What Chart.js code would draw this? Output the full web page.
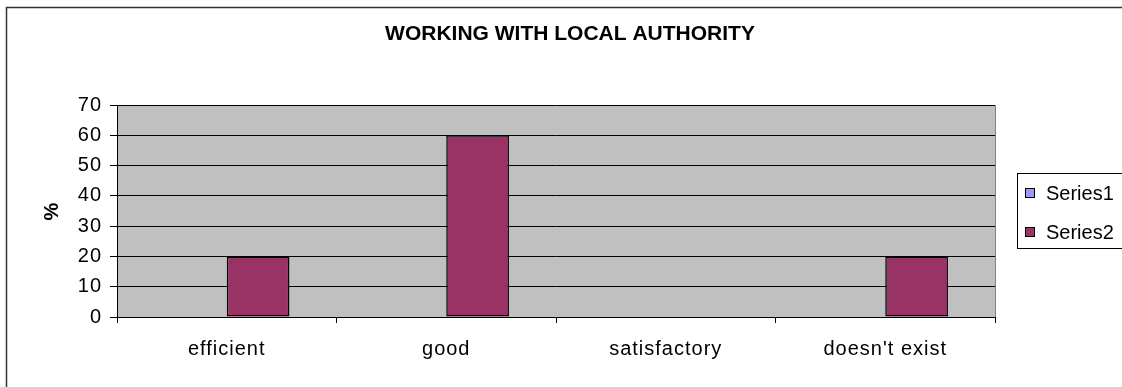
<!DOCTYPE html>
<html>
<head>
<meta charset="utf-8">
<script src="https://cdn.jsdelivr.net/npm/chart.js@4/dist/chart.umd.min.js"></script>
<style>
  html, body { margin: 0; padding: 0; background: #fff; }
  #wrap { width: 1122px; height: 387px; }
</style>
</head>
<body>
<div id="wrap"><canvas id="chart" width="1122" height="387"></canvas></div>
<script>
const categories = ['efficient', 'good', 'satisfactory', "doesn't exist"];
const series1 = [0, 0, 0, 0];
const series2 = [20, 60, 0, 20];
const yTicks = [0, 10, 20, 30, 40, 50, 60, 70];
const chartTitle = 'WORKING WITH LOCAL AUTHORITY';

const FONT = "'Liberation Sans', Arial, sans-serif";

// grey plot area, frame, title and the boxed legend on the right
const excelLook = {
  id: 'excelLook',
  beforeDraw(chart) {
    const { ctx, chartArea: a } = chart;
    ctx.save();
    ctx.fillStyle = '#C0C0C0';
    ctx.fillRect(a.left, a.top, a.right - a.left, a.bottom - a.top);
    ctx.restore();
    // axis text is drawn a little spaced out
    ctx.letterSpacing = '1px';
  },
  afterDraw(chart) {
    const { ctx, chartArea: a } = chart;
    ctx.letterSpacing = '0px';
    ctx.save();
    // right edge of plot
    ctx.strokeStyle = '#808080';
    ctx.lineWidth = 1;
    ctx.beginPath();
    ctx.moveTo(a.right + 0.5, a.top);
    ctx.lineTo(a.right + 0.5, a.bottom);
    ctx.stroke();

    // outer chart frame
    ctx.strokeStyle = '#333';
    ctx.lineWidth = 1.5;
    ctx.beginPath();
    ctx.moveTo(6.5, 387);
    ctx.lineTo(6.5, 7.5);
    ctx.lineTo(1122, 7.5);
    ctx.stroke();

    // title
    ctx.fillStyle = '#000';
    ctx.font = 'bold 21px ' + FONT;
    ctx.textAlign = 'center';
    ctx.textBaseline = 'middle';
    ctx.fillText(chartTitle, 570, 34);

    // legend
    const lx = 1017, ly = 173;
    ctx.strokeStyle = '#000';
    ctx.lineWidth = 1;
    ctx.strokeRect(lx + 0.5, ly + 0.5, 130, 75);
    ctx.font = '20px ' + FONT;
    ctx.textAlign = 'left';
    chart.data.datasets.forEach((ds, i) => {
      const cy = 193 + i * 39;
      ctx.fillStyle = ds.backgroundColor;
      ctx.fillRect(lx + 8, cy - 5, 10, 10);
      ctx.strokeStyle = '#000';
      ctx.strokeRect(lx + 8.5, cy - 4.5, 9, 9);
      ctx.fillStyle = '#000';
      ctx.fillText(ds.label, lx + 29, cy + 1);
    });
    ctx.restore();
  }
};

new Chart(document.getElementById('chart'), {
  type: 'bar',
  data: {
    labels: categories,
    datasets: [
      {
        label: 'Series1',
        data: series1,
        backgroundColor: '#9999FF',
        borderColor: '#000',
        borderWidth: 0
      },
      {
        label: 'Series2',
        data: series2,
        backgroundColor: '#993366',
        borderColor: '#000',
        borderWidth: 1.5,
        borderSkipped: false
      }
    ]
  },
  options: {
    responsive: false,
    animation: false,
    events: [],
    categoryPercentage: 2 / 3.5,
    barPercentage: 1,
    layout: { padding: { left: 0, right: 127, top: 105, bottom: 0 } },
    plugins: {
      legend: { display: false },
      tooltip: { enabled: false },
      title: { display: false }
    },
    scales: {
      x: {
        offset: true,
        grid: {
          offset: true,
          drawOnChartArea: false,
          drawTicks: true,
          tickLength: 6,
          color: '#000'
        },
        border: { display: true, color: '#000', width: 1 },
        ticks: {
          color: '#000',
          font: { family: FONT, size: 20 },
          padding: 14,
          maxRotation: 0
        },
        afterFit(scale) { scale.height = 70; }
      },
      y: {
        min: 0,
        max: 70,
        afterBuildTicks(scale) { scale.ticks = yTicks.map(v => ({ value: v })); },
        grid: {
          color: '#000',
          lineWidth: 1,
          drawTicks: true,
          tickLength: 7
        },
        border: { display: true, color: '#000', width: 1 },
        ticks: {
          color: '#000',
          font: { family: FONT, size: 20 },
          padding: 8
        },
        title: {
          display: true,
          text: '%',
          color: '#000',
          font: { family: FONT, size: 20, weight: 'bold' },
          padding: { top: 40, bottom: 0 }
        },
        afterFit(scale) { scale.width = 117; }
      }
    }
  },
  plugins: [excelLook]
});
</script>
</body>
</html>
